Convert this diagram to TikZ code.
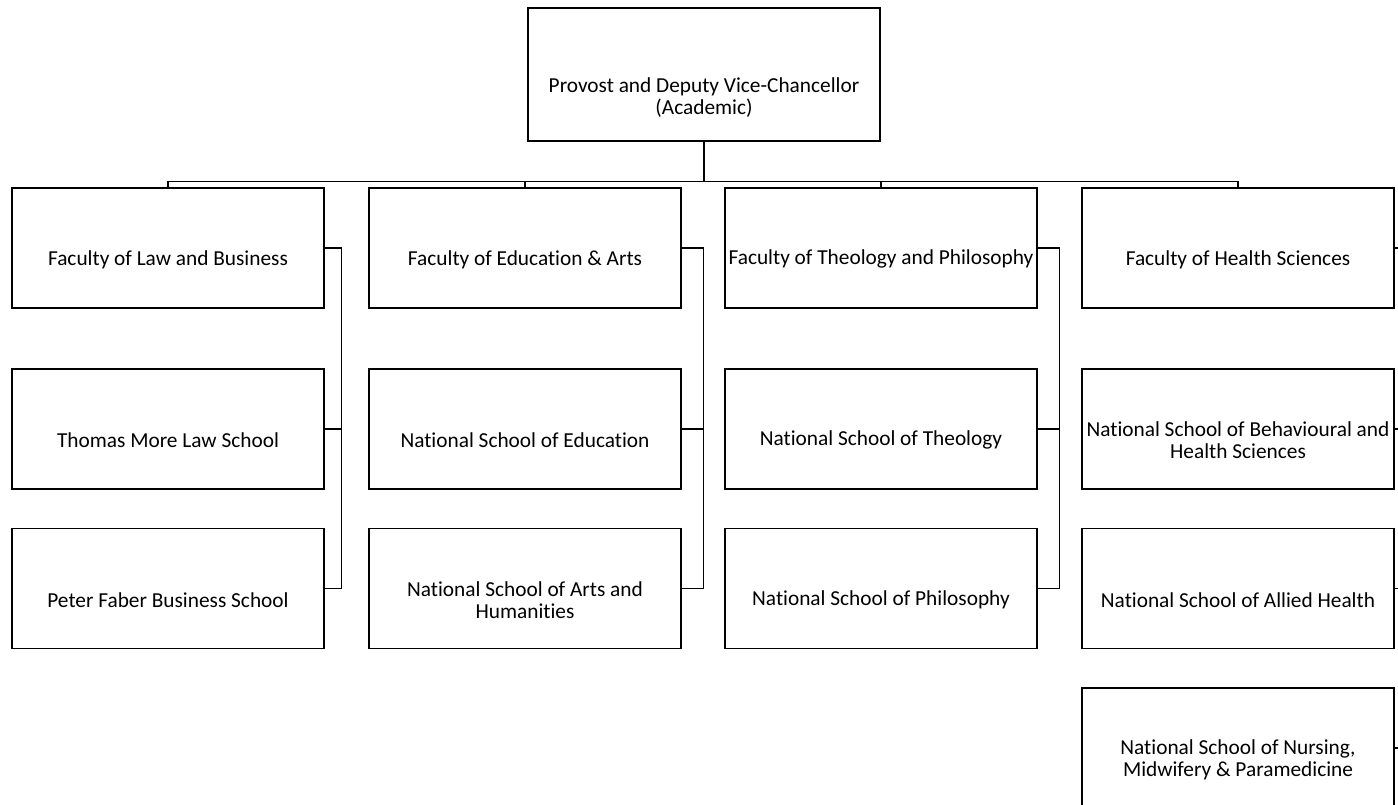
\documentclass[tikz,border=0pt]{standalone}
\usepackage{fontspec}
\setmainfont{Carlito}[Ligatures=NoCommon]
\usetikzlibrary{positioning}

\begin{document}
\begin{tikzpicture}[x=0.75pt,y=-0.75pt,line width=0.9pt,
    unittext/.style={align=center,inner sep=0pt,font=\fontsize{16}{16.5}\selectfont,yshift=-8.5pt},
    unitbox/.style={draw,rectangle,minimum width=234pt,minimum height=90pt,label={[unittext]center:#1}},
    headbox/.style={draw,rectangle,minimum width=264pt,minimum height=99.75pt,label={[unittext,yshift=-9pt]center:#1}}]
    \useasboundingbox (0,0) rectangle (1398,804);
    % head
    \node[headbox={Provost and Deputy Vice-Chancellor\\(Academic)}] (provost) at (704,74.5) {};
    % faculties
    \node[unitbox={Faculty of Law and Business}] (law) at (168,248) {};
    \node[unitbox={Faculty of Education \& Arts}] (edu) at (525,248) {};
    \node[unitbox={Faculty of Theology and Philosophy}] (theo) at (881,248) {};
    \node[unitbox={Faculty of Health Sciences}] (health) at (1238,248) {};
    % schools
    \node[unitbox={Thomas More Law School}] (thomas) at (168,429) {};
    \node[unitbox={Peter Faber Business School}] (faber) at (168,588.5) {};
    \node[unitbox={National School of Education}] (nsedu) at (525,429) {};
    \node[unitbox={National School of Arts and\\Humanities}] (nsarts) at (525,588.5) {};
    \node[unitbox={National School of Theology}] (nstheo) at (881,429) {};
    \node[unitbox={National School of Philosophy}] (nsphil) at (881,588.5) {};
    \node[unitbox={National School of Behavioural and\\Health Sciences}] (nsbehav) at (1238,429) {};
    \node[unitbox={National School of Allied Health}] (nsallied) at (1238,588.5) {};
    \node[unitbox={National School of Nursing,\\Midwifery \& Paramedicine}] (nsnurse) at (1238,748) {};
    % head to faculties
    \draw (provost.south) -- ++(0,40) coordinate (bus);
    \draw (law.north) |- (bus) -| (health.north);
    \draw (edu.north) |- (bus);
    \draw (theo.north) |- (bus);
    % faculties to schools
    \draw (law.east) -- ++(17,0) coordinate (lawbus) |- (faber.east);
    \draw (thomas.east) -- (thomas.east -| lawbus);
    \draw (edu.east) -- ++(22,0) coordinate (edubus) |- (nsarts.east);
    \draw (nsedu.east) -- (nsedu.east -| edubus);
    \draw (theo.east) -- ++(22,0) coordinate (theobus) |- (nsphil.east);
    \draw (nstheo.east) -- (nstheo.east -| theobus);
    \draw (health.east) -- ++(22,0) coordinate (healthbus) |- (nsnurse.east);
    \draw (nsbehav.east) -- (nsbehav.east -| healthbus);
    \draw (nsallied.east) -- (nsallied.east -| healthbus);
\end{tikzpicture}
\end{document}
